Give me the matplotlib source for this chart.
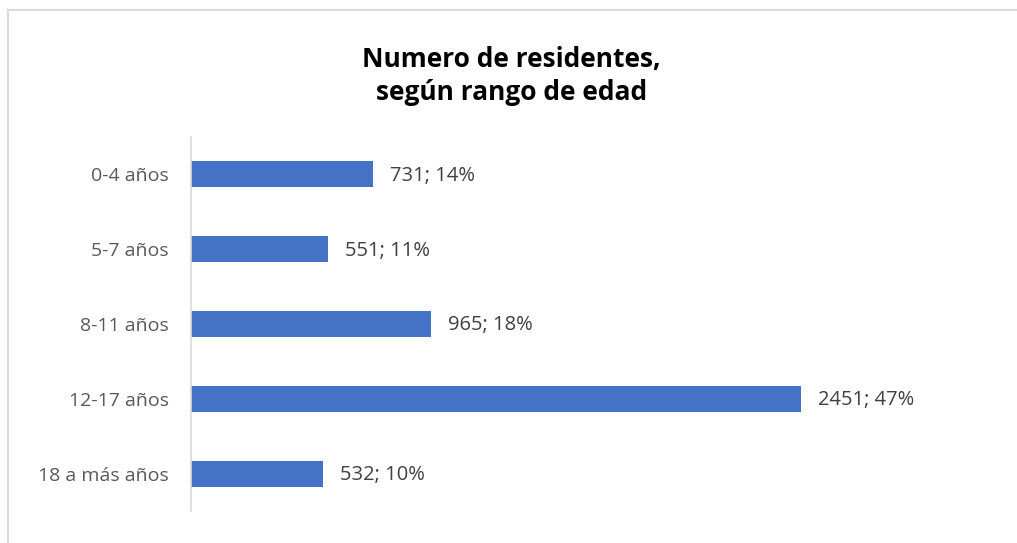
import matplotlib
matplotlib.use("Agg")
import matplotlib.pyplot as plt
from matplotlib.lines import Line2D

categories = ["0-4 años", "5-7 años", "8-11 años", "12-17 años", "18 a más años"]
counts = [731, 551, 965, 2451, 532]
percents = [14, 11, 18, 47, 10]

plt.rcParams['font.family'] = ['Open Sans', 'DejaVu Sans']

fig = plt.figure(figsize=(10.17, 5.43), dpi=100)
ax = fig.add_axes([191 / 1017, 1 - 511 / 543, (960 - 191) / 1017, (511 - 137) / 543])

ypos = list(range(len(categories)))
ax.barh(ypos, counts, height=0.35, color="#4472C4")
ax.set_ylim(len(categories) - 0.5, -0.5)
ax.set_xlim(0, (960 - 191) / (610 / 2451))

for y, c, p in zip(ypos, counts, percents):
    ax.annotate(f"{c}; {p}%", (c, y), xytext=(12, -1), textcoords="offset points",
                va="center", ha="left", fontsize=14.5, color="#404040")

ax.set_yticks(ypos)
ax.set_yticklabels(categories, fontsize=14, color="#595959")
ax.tick_params(axis="y", length=0, pad=16)
ax.set_xticks([])
for s in ["top", "right", "bottom"]:
    ax.spines[s].set_visible(False)
ax.spines["left"].set_color("#D9D9D9")
ax.spines["left"].set_linewidth(1.2)

fig.text(0.503, 1 - 76 / 543, "Numero de residentes,\nsegún rango de edad",
         ha="center", va="center", fontsize=19, fontweight="bold",
         color="#000000", linespacing=1.3)

# chart area frame (left and top edges visible)
fig.add_artist(Line2D([8 / 1017, 8 / 1017], [0, 1 - 10 / 543], color="#D9D9D9", lw=1.5,
                      transform=fig.transFigure))
fig.add_artist(Line2D([8 / 1017, 1], [1 - 10 / 543, 1 - 10 / 543], color="#D9D9D9", lw=1.5,
                      transform=fig.transFigure))

fig.savefig("out.png", dpi=100)
